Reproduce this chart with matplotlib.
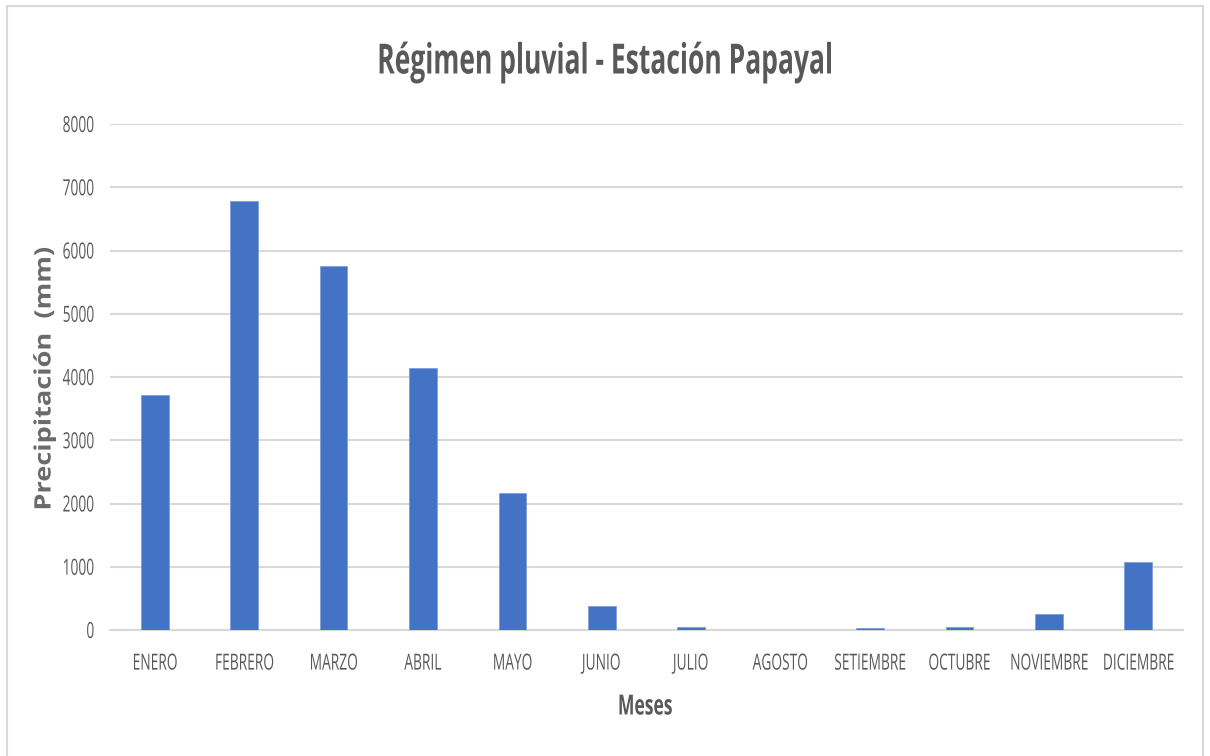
import matplotlib
matplotlib.use("Agg")
import matplotlib.pyplot as plt
from matplotlib.patches import Rectangle
from matplotlib.patheffects import AbstractPathEffect
from matplotlib.transforms import Affine2D

# ── Data ──────────────────────────────────────────────────────────────────────
meses = ["ENERO", "FEBRERO", "MARZO", "ABRIL", "MAYO", "JUNIO", "JULIO",
         "AGOSTO", "SETIEMBRE", "OCTUBRE", "NOVIEMBRE", "DICIEMBRE"]
precipitacion = [3720, 6790, 5755, 4140, 2170, 380, 55,
                 5, 30, 55, 250, 1075]
yticks = [0, 1000, 2000, 3000, 4000, 5000, 6000, 7000, 8000]

FONT = "Open Sans"
GREY_TXT = "#595959"


# the reference screenshot is squeezed horizontally, so the glyphs are narrow
class Squeeze(AbstractPathEffect):
    def __init__(self, sx=1.0, sy=1.0, anchor="center"):
        super().__init__()
        self.sx, self.sy, self.anchor = sx, sy, anchor

    def draw_path(self, renderer, gc, tpath, affine, rgbFace=None):
        ext = tpath.get_extents()
        if self.anchor == "right":
            x0 = ext.x1
        elif self.anchor == "left":
            x0 = ext.x0
        else:
            x0 = (ext.x0 + ext.x1) / 2
        y0 = (ext.y0 + ext.y1) / 2
        pre = (Affine2D().translate(-x0, -y0)
               .scale(self.sx, self.sy).translate(x0, y0))
        renderer.draw_path(gc, tpath, pre + affine, rgbFace)


fig = plt.figure(figsize=(12.1, 7.56), dpi=100)
fig.patch.set_facecolor("white")

# light frame around the chart area (Excel style)
fig.add_artist(Rectangle((7 / 1210, -0.01), 1196 / 1210, 1 - 6 / 756 + 0.01,
                         transform=fig.transFigure, fill=False,
                         edgecolor="#d9d9d9", linewidth=1.5))

ax = fig.add_axes([110 / 1210, 1 - 630 / 756, 1073 / 1210, 506 / 756])
x = range(len(meses))
ax.bar(x, precipitacion, width=0.31, color="#4472c4",
       edgecolor="#7f9fd6", linewidth=0.6, zorder=3)

ax.set_xlim(-0.5, len(meses) - 0.5)
ax.set_ylim(0, 8000)
ax.set_yticks(yticks)
ax.set_yticklabels([str(v) for v in yticks], family=FONT,
                   fontsize=16, color=GREY_TXT)
ax.set_xticks(list(x))
ax.set_xticklabels(meses, family=FONT, fontsize=16, color=GREY_TXT)
for t in ax.get_xticklabels():
    t.set_path_effects([Squeeze(0.62)])
for t in ax.get_yticklabels():
    t.set_path_effects([Squeeze(0.62, anchor="right")])
ax.tick_params(axis="both", length=0)
ax.tick_params(axis="y", pad=11)
ax.tick_params(axis="x", pad=17)

ax.grid(axis="y", color="#d9d9d9", linewidth=1.5, zorder=0)
for s in ["top", "right", "left"]:
    ax.spines[s].set_visible(False)
ax.spines["bottom"].set_color("#d9d9d9")
ax.spines["bottom"].set_linewidth(1.5)

title = fig.text(605 / 1210, 1 - 63 / 756, "Régimen pluvial - Estación Papayal",
                 ha="center", va="center", fontsize=30, fontweight="bold",
                 family=FONT, color=GREY_TXT)
title.set_path_effects([Squeeze(0.635)])
xlab = fig.text(645 / 1210, 1 - 707 / 756, "Meses", ha="center", va="center",
                fontsize=20, fontweight="bold", family=FONT, color=GREY_TXT)
xlab.set_path_effects([Squeeze(0.63)])
ylab = fig.text(44 / 1210, 1 - 379 / 756, "Precipitación  (mm)", ha="center",
                va="center", rotation=90, fontsize=19, fontweight="bold",
                family=FONT, color="#6b6b6b")
ylab.set_path_effects([Squeeze(1.03, 0.86)])

fig.savefig("out.png", dpi=100)
